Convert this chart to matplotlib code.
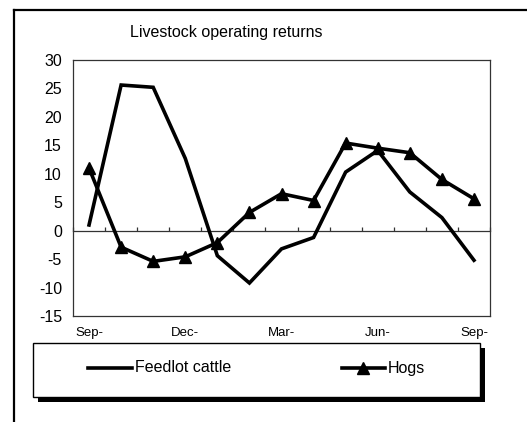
import matplotlib
matplotlib.use("Agg")
import matplotlib.pyplot as plt
from matplotlib.patches import Rectangle
from matplotlib.lines import Line2D
import numpy as np

plt.rcParams['font.family'] = ['Liberation Sans', 'DejaVu Sans']
plt.rcParams['axes.unicode_minus'] = False

# monthly values, Sep to Sep (13 months)
months = ["Sep-", "", "", "Dec-", "", "", "Mar-", "", "", "Jun-", "", "", "Sep-"]
feedlot_cattle = [1.0, 25.6, 25.2, 12.7, -4.4, -9.2, -3.2, -1.2, 10.3, 14.1, 6.8, 2.3, -5.2]
hogs = [11.0, -2.9, -5.4, -4.6, -2.1, 3.2, 6.5, 5.3, 15.4, 14.5, 13.7, 9.0, 5.6]

W, H = 527, 422
fig = plt.figure(figsize=(W / 100, H / 100), dpi=100)

def fx(px):
    return px / W

def fy(py):
    return 1 - py / H

# outer frame (clipped at right and bottom)
fig.add_artist(Line2D([fx(14), fx(14)], [fy(10), 0], color="black", lw=1.6))
fig.add_artist(Line2D([fx(14), 1], [fy(10), fy(10)], color="black", lw=1.6))

ax = fig.add_axes([fx(73), fy(316), fx(490) - fx(73), fy(60) - fy(316)])
x = np.arange(len(months))

ax.plot(x, feedlot_cattle, color="black", lw=2.6, solid_joinstyle="miter")
ax.plot(x, hogs, color="black", lw=2.6, marker="^", markersize=8, solid_joinstyle="miter")

ax.set_xlim(-0.5, len(months) - 0.5)
ax.set_ylim(-15, 30)
ax.set_yticks(np.arange(-15, 31, 5))
ax.tick_params(axis="y", length=0, pad=8, labelsize=11.5)
ax.set_xticks(x)
ax.set_xticklabels(months)
ax.tick_params(axis="x", length=0, pad=8, labelsize=9.5)
for s in ax.spines.values():
    s.set_linewidth(0.9)
    s.set_color("#333333")

# category axis crossing at zero, ticks between months
sec = ax.secondary_xaxis(15 / 45)
sec.set_xticks(np.arange(-0.5, len(months), 1.0))
sec.set_xticklabels([])
sec.tick_params(direction="in", length=3, width=0.9, color="#333333")
sec.spines["bottom"].set_linewidth(0.9)
sec.spines["bottom"].set_color("#333333")

fig.text(fx(226), fy(33), "Livestock operating returns", ha="center", va="center", fontsize=11.5)

# legend box with shadow
fig.add_artist(Rectangle((fx(38), fy(402)), fx(480) - fx(33), fy(343) - fy(397),
                         facecolor="black", edgecolor="none"))
fig.add_artist(Rectangle((fx(33), fy(397)), fx(480) - fx(33), fy(343) - fy(397),
                         facecolor="white", edgecolor="black", lw=1.0))
fig.add_artist(Line2D([fx(88), fx(132)], [fy(368), fy(368)], color="black", lw=2.6))
fig.text(fx(135), fy(368), "Feedlot cattle", ha="left", va="center", fontsize=11.5)
fig.add_artist(Line2D([fx(342), fx(385)], [fy(368), fy(368)], color="black", lw=2.6))
fig.add_artist(Line2D([fx(363)], [fy(368)], color="black", marker="^", markersize=8))
fig.text(fx(388), fy(368), "Hogs", ha="left", va="center", fontsize=11.5)

fig.savefig("out.png", dpi=100)
